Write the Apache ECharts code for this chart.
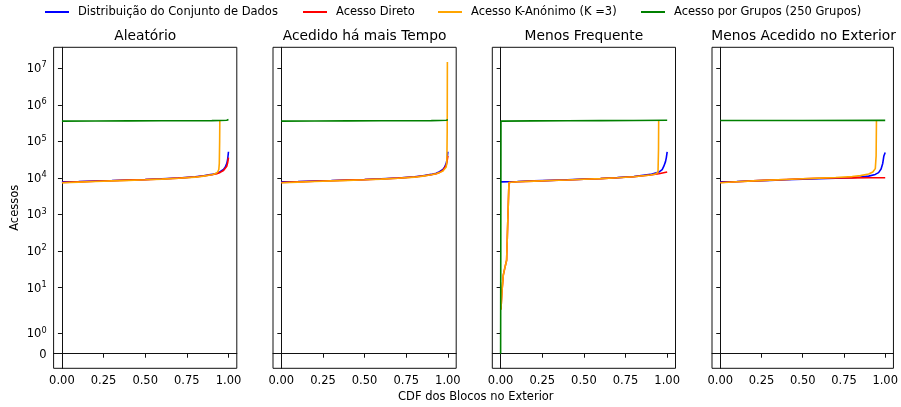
<!DOCTYPE html>
<html><head><meta charset="utf-8">
<script src="https://cdn.jsdelivr.net/npm/echarts@6/dist/echarts.min.js"></script>
<style>html,body{margin:0;padding:0;background:#fff}#c{width:901px;height:407px}</style>
</head><body><div id="c"></div>
<script>
const panelTitles = ['Aleatório', 'Acedido há mais Tempo', 'Menos Frequente', 'Menos Acedido no Exterior'];
const seriesNames = ['Distribuição do Conjunto de Dados', 'Acesso Direto', 'Acesso K-Anónimo (K =3)', 'Acesso por Grupos (250 Grupos)'];
const seriesColors = ['#0000ff', '#ff0000', '#ffa500', '#008000'];
const yTickValues = [0, 1, 10, 100, 1000, 1e4, 1e5, 1e6, 1e7];
const xTickValues = [0, 0.25, 0.5, 0.75, 1];
const xLabel = 'CDF dos Blocos no Exterior';
const yLabel = 'Acessos';

// Panel 1: Aleatório
const p1BlueX = [0, 0.1, 0.2, 0.3, 0.4, 0.5, 0.6, 0.7, 0.8, 0.85, 0.9, 0.93, 0.95, 0.97, 0.98, 0.99, 0.995, 1.0];
const p1BlueY = [7800, 8000, 8250, 8500, 8800, 9100, 9500, 10000, 10800, 11500, 12500, 13500, 14800, 17000, 19500, 25000, 32000, 52000];
const p1RedX = [0, 0.1, 0.2, 0.3, 0.4, 0.5, 0.6, 0.7, 0.8, 0.85, 0.9, 0.93, 0.95, 0.97, 0.98, 0.99, 0.995, 1.0];
const p1RedY = [7500, 7800, 8100, 8400, 8700, 9000, 9400, 9900, 10600, 11300, 12200, 13100, 14200, 16000, 18000, 21000, 26000, 36000];
const p1OrangeX = [0, 0.1, 0.2, 0.3, 0.4, 0.5, 0.6, 0.7, 0.8, 0.85, 0.9, 0.92, 0.935, 0.942, 0.945, 0.947, 0.948];
const p1OrangeY = [7400, 7700, 8000, 8300, 8600, 8900, 9300, 9800, 10500, 11200, 12200, 13000, 14500, 17000, 25000, 100000, 370000];
const p1GreenX = [0, 0.2, 0.4, 0.6, 0.8, 0.9, 0.95, 0.99, 1.0];
const p1GreenY = [360000, 362000, 364000, 366000, 368000, 370000, 372000, 380000, 400000];

// Panel 2: Acedido há mais Tempo
const p2BlueX = [0, 0.1, 0.2, 0.3, 0.4, 0.5, 0.6, 0.7, 0.8, 0.85, 0.9, 0.93, 0.95, 0.97, 0.98, 0.99, 0.995, 1.0];
const p2BlueY = [7800, 8000, 8250, 8500, 8800, 9100, 9500, 10000, 10800, 11500, 12500, 13500, 14800, 17000, 19500, 25000, 32000, 52000];
const p2RedX = [0, 0.1, 0.2, 0.3, 0.4, 0.5, 0.6, 0.7, 0.8, 0.85, 0.9, 0.93, 0.95, 0.97, 0.98, 0.99, 0.995, 1.0];
const p2RedY = [7500, 7800, 8100, 8400, 8700, 9000, 9400, 9900, 10600, 11300, 12200, 13100, 14200, 16000, 18000, 22000, 28000, 40000];
const p2OrangeX = [0, 0.1, 0.2, 0.3, 0.4, 0.5, 0.6, 0.7, 0.8, 0.85, 0.9, 0.93, 0.95, 0.97, 0.98, 0.99, 0.994, 0.996, 0.997];
const p2OrangeY = [7400, 7700, 8000, 8300, 8600, 8900, 9300, 9800, 10500, 11200, 12200, 13000, 14000, 15500, 17000, 20000, 28000, 200000, 15000000];
const p2GreenX = [0, 0.2, 0.4, 0.6, 0.8, 0.9, 0.95, 0.99, 1.0];
const p2GreenY = [360000, 362000, 364000, 366000, 368000, 370000, 372000, 380000, 390000];

// Panel 3: Menos Frequente
const p3BlueX = [0, 0.05, 0.1, 0.2, 0.3, 0.4, 0.5, 0.6, 0.7, 0.8, 0.9, 0.95, 0.97, 0.98, 0.99, 0.995, 1.0];
const p3BlueY = [7800, 7900, 8000, 8300, 8600, 8900, 9300, 9700, 10200, 11000, 12500, 14500, 17000, 21000, 28000, 36000, 52000];
const p3RedX = [0.002, 0.008, 0.012, 0.016, 0.025, 0.036, 0.043, 0.05, 0.1, 0.2, 0.3, 0.4, 0.5, 0.6, 0.7, 0.8, 0.9, 0.95, 1.0];
const p3RedY = [2.5, 8, 13, 22, 34, 56, 660, 7500, 7900, 8200, 8500, 8800, 9200, 9600, 10100, 10800, 12000, 13000, 14500];
const p3OrangeX = [0.002, 0.008, 0.012, 0.016, 0.025, 0.036, 0.043, 0.05, 0.1, 0.2, 0.3, 0.4, 0.5, 0.6, 0.7, 0.8, 0.9, 0.93, 0.945, 0.948, 0.949];
const p3OrangeY = [2.5, 8, 13, 22, 34, 56, 660, 7500, 7900, 8200, 8500, 8800, 9200, 9600, 10100, 10800, 12000, 12800, 14500, 60000, 370000];
const p3GreenX = [0, 0.002, 0.2, 0.4, 0.6, 0.8, 1.0];
const p3GreenY = [0, 360000, 365000, 368000, 371000, 374000, 380000];

// Panel 4: Menos Acedido no Exterior
const p4BlueX = [0, 0.1, 0.2, 0.3, 0.4, 0.5, 0.6, 0.7, 0.8, 0.85, 0.9, 0.94, 0.96, 0.975, 0.985, 0.992, 1.0];
const p4BlueY = [7800, 8000, 8300, 8600, 8900, 9200, 9500, 9800, 10200, 10600, 11200, 12500, 14000, 17500, 25000, 40000, 50000];
const p4RedX = [0, 0.1, 0.2, 0.3, 0.4, 0.5, 0.6, 0.7, 0.8, 0.9, 1.0];
const p4RedY = [7500, 7900, 8300, 8700, 9100, 9500, 9800, 10000, 10050, 10100, 10100];
const p4OrangeX = [0, 0.1, 0.2, 0.3, 0.4, 0.5, 0.6, 0.7, 0.8, 0.85, 0.9, 0.925, 0.94, 0.945, 0.947];
const p4OrangeY = [7400, 7900, 8300, 8700, 9100, 9500, 9900, 10300, 10900, 11600, 12800, 14500, 18000, 40000, 370000];
const p4GreenX = [0, 0.5, 1.0];
const p4GreenY = [372000, 374000, 376000];

const panels = [
  [[p1BlueX, p1BlueY], [p1RedX, p1RedY], [p1OrangeX, p1OrangeY], [p1GreenX, p1GreenY]],
  [[p2BlueX, p2BlueY], [p2RedX, p2RedY], [p2OrangeX, p2OrangeY], [p2GreenX, p2GreenY]],
  [[p3BlueX, p3BlueY], [p3RedX, p3RedY], [p3OrangeX, p3OrangeY], [p3GreenX, p3GreenY]],
  [[p4BlueX, p4BlueY], [p4RedX, p4RedY], [p4OrangeX, p4OrangeY], [p4GreenX, p4GreenY]]
];

// symlog transform (linthresh = 2, linscale = 1, base 10)
const LINTHRESH = 2, LINADJ = 1 / (1 - 1 / 10);
function symlog(v) {
  const a = Math.abs(v), s = v < 0 ? -1 : 1;
  if (a <= LINTHRESH) return v / LINTHRESH * LINADJ;
  return s * (LINADJ + Math.log10(a / LINTHRESH));
}

let dmin = Infinity, dmax = -Infinity;
panels.forEach(p => p.forEach(s => s[1].forEach(v => { const t = symlog(v); dmin = Math.min(dmin, t); dmax = Math.max(dmax, t); })));
const span = dmax - dmin;
const yMin = dmin - 0.05 * span, yMax = dmax + 0.05 * span;
const yTickPos = yTickValues.map(symlog);

const FONT = 'DejaVu Sans';
const gridLefts = [53.6, 273, 492.3, 712];
const gridW = 183.2, gridTop = 47.3, gridH = 321;

const grids = [], xAxes = [], yAxes = [], series = [], titles = [];
gridLefts.forEach((l, i) => {
  grids.push({ left: l, top: gridTop, width: gridW, height: gridH, show: true, borderColor: '#111', borderWidth: 1, backgroundColor: 'transparent' });
  xAxes.push({
    gridIndex: i, type: 'value', min: -0.05, max: 1.05,
    splitLine: { show: false },
    axisLine: { show: true, lineStyle: { color: '#111', width: 1 } },
    axisTick: { show: true, customValues: xTickValues, length: 4, lineStyle: { color: '#111' } },
    axisLabel: { show: true, customValues: xTickValues, formatter: v => v.toFixed(2), color: '#000', fontSize: 11.5, fontFamily: FONT, margin: 7 }
  });
  yAxes.push({
    gridIndex: i, type: 'value', min: yMin, max: yMax,
    splitLine: { show: false },
    axisLine: { show: true, lineStyle: { color: '#111', width: 1 } },
    axisTick: { show: true, customValues: yTickPos, length: 4, lineStyle: { color: '#111' } },
    axisLabel: {
      show: i === 0, customValues: yTickPos, color: '#000', fontSize: 11.5, fontFamily: FONT, margin: 7,
      formatter: v => {
        let k = 0, best = Infinity;
        yTickPos.forEach((p, j) => { if (Math.abs(p - v) < best) { best = Math.abs(p - v); k = j; } });
        const tv = yTickValues[k];
        if (tv === 0) return '{b|0}';
        return '{b|10}{s|' + Math.round(Math.log10(tv)) + '}';
      },
      rich: {
        b: { fontSize: 11.5, fontFamily: FONT, color: '#000', lineHeight: 14, verticalAlign: 'bottom' },
        s: { fontSize: 8.2, fontFamily: FONT, color: '#000', lineHeight: 14, verticalAlign: 'top', padding: [0, 0, 6, 0] }
      }
    },
    name: i === 0 ? yLabel : '', nameLocation: 'middle', nameGap: 33, nameRotate: 90,
    nameTextStyle: { color: '#000', fontSize: 11.5, fontFamily: FONT }
  });
  titles.push({ text: panelTitles[i], left: l + gridW / 2, top: 29, textAlign: 'center', padding: 0,
    textStyle: { color: '#000', fontSize: 13.8, fontWeight: 'normal', fontFamily: FONT } });
  panels[i].forEach((s, j) => {
    series.push({
      name: seriesNames[j], type: 'line', xAxisIndex: i, yAxisIndex: i,
      data: s[0].map((x, k) => [x, symlog(s[1][k])]),
      showSymbol: false, symbol: 'none', color: seriesColors[j],
      lineStyle: { color: seriesColors[j], width: 1.6 },
      z: 2 + j, animation: false
    });
  });
});

const legendLefts = [45, 303, 438, 641];
const legends = seriesNames.map((n, j) => ({
  data: [n], left: legendLefts[j], top: 6, padding: 0, icon: 'rect', itemWidth: 24, itemHeight: 2,
  textStyle: { color: '#000', fontSize: 11.5, fontFamily: FONT, padding: [0, 0, 0, 4] },
  selectedMode: false
}));

const chart = echarts.init(document.getElementById('c'), null, { renderer: 'canvas' });
chart.setOption({
  animation: false,
  backgroundColor: '#fff',
  title: titles,
  legend: legends,
  grid: grids,
  xAxis: xAxes,
  yAxis: yAxes,
  series: series,
  graphic: [{
    type: 'text', left: 476 - 78, top: 391,
    style: { text: xLabel, fill: '#000', fontSize: 11.5, fontFamily: FONT }
  }]
});
</script></body></html>
